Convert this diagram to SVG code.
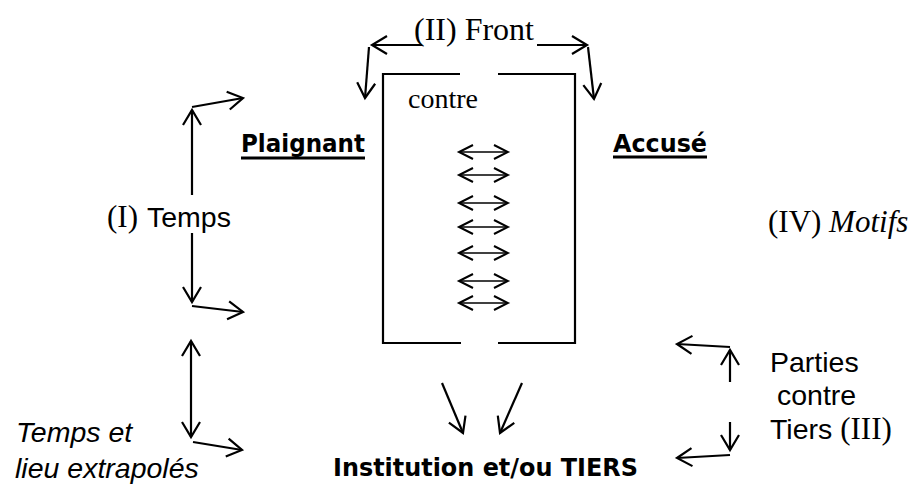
<svg xmlns="http://www.w3.org/2000/svg" width="914" height="484" viewBox="0 0 914 484">
<style>
.ln{fill:none;stroke:#000;stroke-width:2.2}
.ar{fill:none;stroke:#000;stroke-width:2.2;marker-end:url(#ah)}
.da{fill:none;stroke:#000;stroke-width:2.2;marker-end:url(#ah);marker-start:url(#ah)}
.sa{fill:none;stroke:#000;stroke-width:1.6;marker-end:url(#ahs);marker-start:url(#ahs)}
.serif{font-family:"Liberation Serif","Times New Roman",serif;font-size:31px}
.sans{font-family:"Liberation Sans",Arial,sans-serif;font-size:28.5px}
.comic{font-family:"DejaVu Sans",Verdana,sans-serif;font-weight:bold;font-size:25px}
text{fill:#000}
</style>
<defs>
<marker id="ah" viewBox="-18 -11 22 22" refX="0" refY="0" markerWidth="22" markerHeight="22" orient="auto-start-reverse" markerUnits="userSpaceOnUse">
<path d="M-15,-9 L0,0 L-15,9" fill="none" stroke="#000" stroke-width="2.2"/>
</marker>
<marker id="ahs" viewBox="-16 -10 20 20" refX="0" refY="0" markerWidth="20" markerHeight="20" orient="auto-start-reverse" markerUnits="userSpaceOnUse">
<path d="M-14,-7 L0,0 L-14,7" fill="none" stroke="#000" stroke-width="2"/>
</marker>
</defs>
<rect width="914" height="484" fill="#fff"/>

<g id="box">
<path class="ln" d="M460,74 L383,74 L383,343 L461,343"/>
<path class="ln" d="M498,74 L575,74 L575,343 L498,343"/>
<text class="serif" x="408" y="108" style="font-size:28px">contre</text>
</g>

<g id="front">
<text class="serif" x="414" y="40" style="font-size:32px">(II) Front</text>
</g>

<g id="plaignant">
<text class="comic" x="241" y="152" textLength="124" lengthAdjust="spacingAndGlyphs">Plaignant</text>
<line x1="241" y1="158" x2="365" y2="158" stroke="#000" stroke-width="3"/>
</g>

<g id="accuse">
<text class="comic" x="613" y="152" textLength="94" lengthAdjust="spacingAndGlyphs">Accusé</text>
<line x1="613" y1="157" x2="707" y2="157" stroke="#000" stroke-width="3"/>
</g>

<g id="temps">
<text x="107" y="227"><tspan class="serif">(I)</tspan><tspan class="sans" x="147">Temps</tspan></text>
</g>

<g id="motifs">
<text class="serif" x="768" y="232">(IV) <tspan font-style="italic">Motifs</tspan></text>
</g>

<g id="parties">
<text class="sans" x="770" y="372">Parties</text>
<text class="sans" x="777" y="405">contre</text>
<text x="770" y="439"><tspan class="sans">Tiers </tspan><tspan class="serif">(III)</tspan></text>
</g>

<g id="extrapoles">
<text class="sans" x="16" y="442" font-style="italic">Temps et</text>
<text class="sans" x="15" y="478" font-style="italic">lieu extrapolés</text>
</g>

<g id="institution">
<text class="comic" x="333" y="476" textLength="305" lengthAdjust="spacingAndGlyphs">Institution et/ou TIERS</text>
</g>

<g id="connectors">
<path class="ar" d="M422,45 L372,45"/>
<path class="ar" d="M537,45 L587,45"/>
<path class="ar" d="M369,47 L365,98"/>
<path class="ar" d="M588,47 L594,99"/>
<path class="ar" d="M192,195 L192,110"/>
<path class="ar" d="M192,107 L243,98"/>
<path class="ar" d="M192,233 L192,302"/>
<path class="ar" d="M192,306 L243,312"/>
<path class="da" d="M191,341 L191,437"/>
<path class="ar" d="M193,442 L242,450"/>
<path class="ar" d="M730,382 L730,350"/>
<path class="ar" d="M730,347 L677,344"/>
<path class="ar" d="M730,422 L730,450"/>
<path class="ar" d="M730,455 L677,458"/>
<path class="ar" d="M442,383 L463,433"/>
<path class="ar" d="M522,383 L500,433"/>
<path class="sa" d="M459,152 L508,152"/>
<path class="sa" d="M459,175 L508,175"/>
<path class="sa" d="M459,203 L508,203"/>
<path class="sa" d="M459,227 L508,227"/>
<path class="sa" d="M459,253 L508,253"/>
<path class="sa" d="M459,281 L508,281"/>
<path class="sa" d="M459,303 L508,303"/>
</g>
</svg>
